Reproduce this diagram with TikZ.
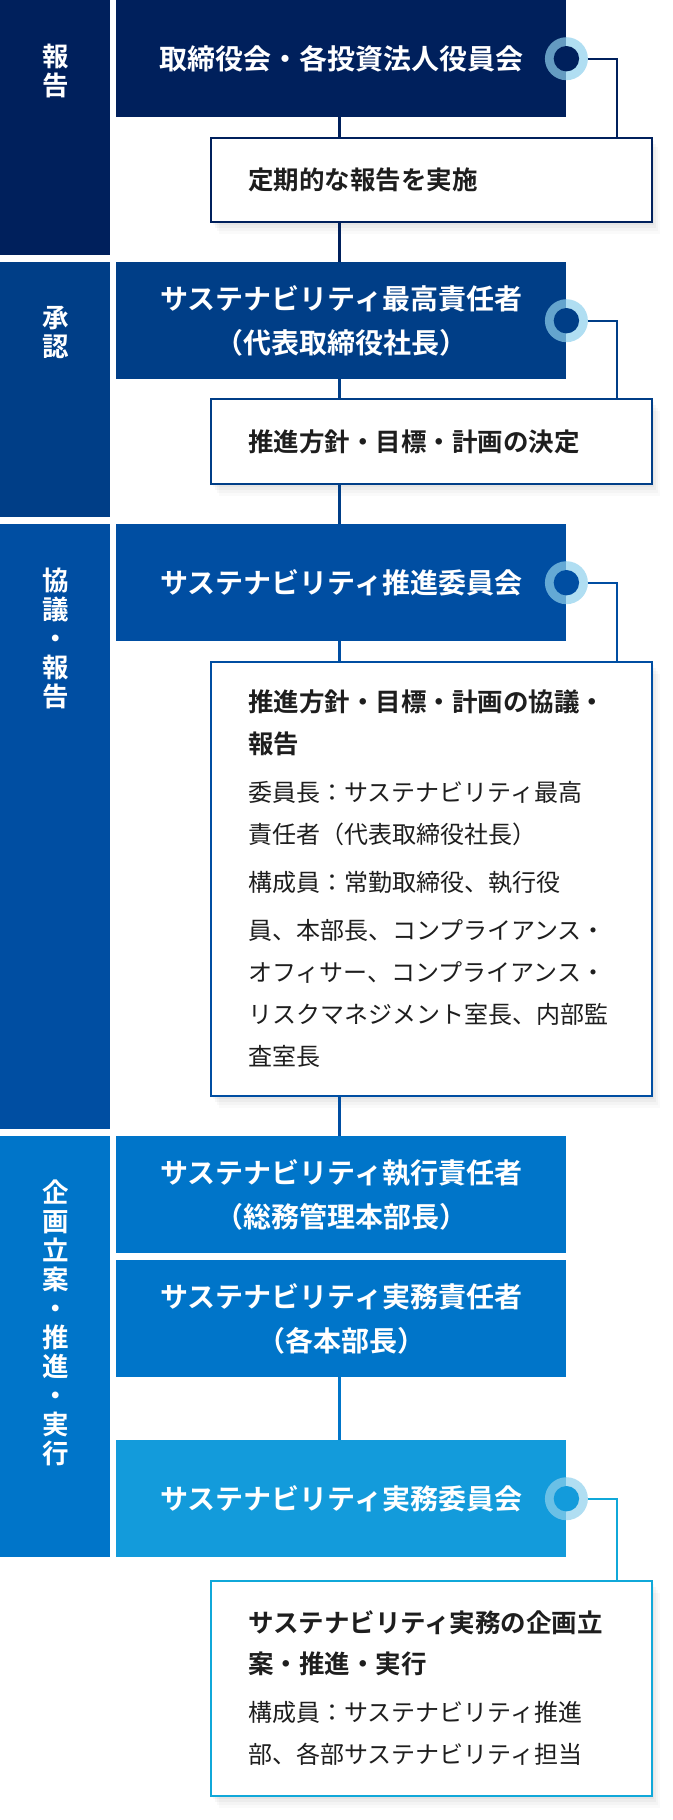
\documentclass[tikz,border=0pt]{standalone}
\usepackage{fontspec}
\setmainfont{Noto Sans CJK JP}[BoldFont={Noto Sans CJK JP Bold}]
\usetikzlibrary{shadows}
\setlength{\parindent}{0pt}
\setlength{\parskip}{0pt}
\definecolor{navyA}{HTML}{00205C}
\definecolor{navyB}{HTML}{003E87}
\definecolor{blueC}{HTML}{004EA2}
\definecolor{blueD}{HTML}{0075C9}
\definecolor{skyE}{HTML}{139BDB}
\definecolor{cyanF}{HTML}{10A8D9}
\definecolor{ringblue}{HTML}{8FD0EC}
\definecolor{ink}{HTML}{1E1E1E}
\begin{document}
\begin{tikzpicture}[x=1pt,y=-1pt,
band/.style={rectangle, fill=#1, minimum width=110pt, inner sep=0pt, anchor=north west},
side/.style={text=white, inner sep=0pt, anchor=north, align=center, font=\bfseries\fontsize{26.5}{29}\selectfont},
block/.style={rectangle, fill=#1, text=white, minimum width=450pt, minimum height=117pt, inner sep=0pt, anchor=north west, align=center, font=\bfseries\fontsize{28}{44}\selectfont},
note/.style={rectangle, draw=#1, line width=2pt, fill=white, text=ink, text width=367pt, inner xsep=37pt, inner ysep=0pt, anchor=north west, align=left, font=\fontsize{24}{42}\selectfont,
  drop shadow={shadow xshift=2pt, shadow yshift=-3pt, opacity=0.03, fill=black},
  drop shadow={shadow xshift=4pt, shadow yshift=-6pt, opacity=0.03, fill=black},
  drop shadow={shadow xshift=6pt, shadow yshift=-9pt, opacity=0.025, fill=black},
  drop shadow={shadow xshift=8pt, shadow yshift=-12pt, opacity=0.02, fill=black}},
ring/.style={circle, fill=ringblue, fill opacity=0.7, minimum size=43pt, inner sep=0pt, outer sep=0pt},
dot/.style={circle, fill=#1, minimum size=25.4pt, inner sep=0pt, outer sep=0pt},
trunk/.style={line width=3pt, draw=#1},
link/.style={line width=2pt, draw=#1}]
\useasboundingbox (0,0) rectangle (672,1820);
\draw (0,0) node[band=navyA, minimum height=255pt] (Rep) {};
\draw (0,262) node[band=navyB, minimum height=255pt] (App) {};
\draw (0,524) node[band=blueC, minimum height=605pt] (Dis) {};
\draw (0,1136) node[band=blueD, minimum height=421pt] (Imp) {};
\draw (56,44) node[side] (RepT) {報\\告};
\draw (56,306) node[side] (AppT) {承\\認};
\draw (56,568) node[side] (DisT) {協\\議\\・\\報\\告};
\draw (56,1180) node[side] (ImpT) {企\\画\\立\\案\\・\\推\\進\\・\\実\\行};

\draw (116,0) node[block=navyA] (Board) {取締役会・各投資法人役員会};
\draw (116,262) node[block=navyB] (Chief) {サステナビリティ最高責任者\\（代表取締役社長）};
\draw (116,524) node[block=blueC] (Council) {サステナビリティ推進委員会};
\draw (116,1136) node[block=blueD] (Exec) {サステナビリティ執行責任者\\（総務管理本部長）};
\draw (116,1260) node[block=blueD] (Prac) {サステナビリティ実務責任者\\（各本部長）};
\draw (116,1440) node[block=skyE] (Work) {サステナビリティ実務委員会};

\draw (210,137) node[note=navyA, minimum height=84pt] (BoardN) {\bfseries\fontsize{25.5}{42}\selectfont 定期的な報告を実施};
\draw (210,398) node[note=navyB, minimum height=85pt] (ChiefN) {\bfseries\fontsize{25.5}{42}\selectfont 推進方針・目標・計画の決定};
\draw (210,661) node[note=blueC, minimum height=434pt] (CouncilN) {{\bfseries\fontsize{25.5}{42}\selectfont 推進方針・目標・計画の協議・\\報告\par}\vspace{6pt}
委員長：サステナビリティ最高\\責任者（代表取締役社長）\\[6pt]
構成員：常勤取締役、執行役\\[6pt]
員、本部長、コンプライアンス・\\オフィサー、コンプライアンス・\\リスクマネジメント室長、内部監\\査室長};
\draw (210,1580) node[note=cyanF, minimum height=215pt] (WorkN) {{\bfseries\fontsize{25.5}{41}\selectfont サステナビリティ実務の企画立\\案・推進・実行\par}\vspace{6pt}
構成員：サステナビリティ推進\\部、各部サステナビリティ担当};

\draw (Board.east) node[ring] (BoardR) {};
\draw (Board.east) node[dot=navyA] (BoardD) {};
\draw (Chief.east) node[ring] (ChiefR) {};
\draw (Chief.east) node[dot=navyB] (ChiefD) {};
\draw (Council.east) node[ring] (CouncilR) {};
\draw (Council.east) node[dot=blueC] (CouncilD) {};
\draw (Work.east) node[ring] (WorkR) {};
\draw (Work.east) node[dot=skyE] (WorkD) {};

\coordinate (spine) at (339,0);
\coordinate (elbow) at (617,0);
\draw [trunk=navyA] (Board.south -| spine) -- (BoardN.north -| spine);
\draw [trunk=navyA] (BoardN.south -| spine) -- (Chief.north -| spine);
\draw [trunk=navyB] (Chief.south -| spine) -- (ChiefN.north -| spine);
\draw [trunk=navyB] (ChiefN.south -| spine) -- (Council.north -| spine);
\draw [trunk=blueC] (Council.south -| spine) -- (CouncilN.north -| spine);
\draw [trunk=blueC] (CouncilN.south -| spine) -- (Exec.north -| spine);
\draw [trunk=blueD] (Prac.south -| spine) -- (Work.north -| spine);
\draw [link=navyA] (BoardR.east) -| (BoardN.north -| elbow);
\draw [link=navyB] (ChiefR.east) -| (ChiefN.north -| elbow);
\draw [link=blueC] (CouncilR.east) -| (CouncilN.north -| elbow);
\draw [link=cyanF] (WorkR.east) -| (WorkN.north -| elbow);

\end{tikzpicture}
\end{document}
